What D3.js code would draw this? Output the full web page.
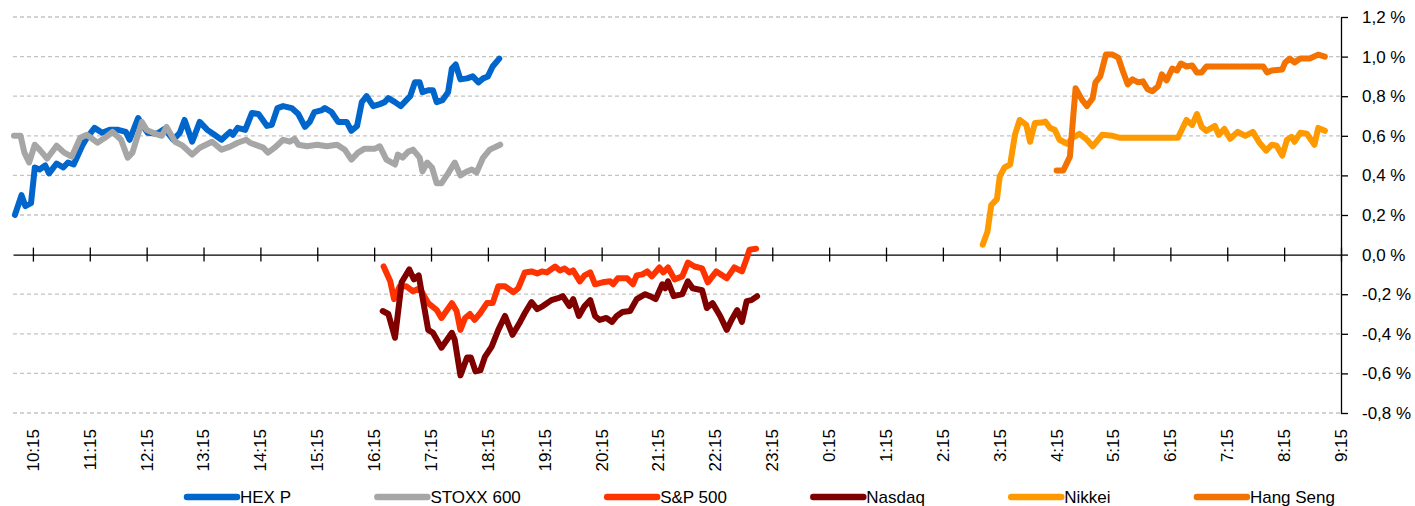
<!DOCTYPE html>
<html>
<head>
<meta charset="utf-8">
<script src="https://cdn.jsdelivr.net/npm/d3@7"></script>
<style>
  body { margin: 0; background: #fff; }
  svg { display: block; font-family: "Liberation Sans", Arial, sans-serif; }
</style>
</head>
<body>
<div id="chart"></div>
<script>
// tick labels
const xTicks = ["10:15","11:15","12:15","13:15","14:15","15:15","16:15","17:15","18:15","19:15","20:15","21:15",
  "22:15","23:15","0:15","1:15","2:15","3:15","4:15","5:15","6:15","7:15","8:15","9:15"];
const yTicks = [-0.8, -0.6, -0.4, -0.2, 0, 0.2, 0.4, 0.6, 0.8, 1.0, 1.2];

// series: [time, % change]
const hexP = [["9:56",0.20],["10:03",0.30],["10:07",0.245],["10:13",0.26],["10:17",0.44],["10:22",0.43],["10:28",0.45],
  ["10:32",0.41],["10:40",0.46],["10:47",0.44],["10:52",0.465],["10:58",0.455],["11:07",0.55],["11:12",0.59],["11:20",0.64],
  ["11:28",0.615],["11:36",0.63],["11:45",0.63],["11:53",0.62],["11:57",0.58],["12:06",0.69],["12:11",0.65],["12:16",0.615],
  ["12:26",0.61],["12:34",0.635],["12:43",0.58],["12:50",0.615],["12:55",0.68],["13:03",0.57],["13:11",0.67],["13:19",0.63],
  ["13:25",0.61],["13:34",0.58],["13:43",0.62],["13:46",0.605],["13:51",0.64],["13:59",0.63],["14:06",0.715],["14:13",0.71],
  ["14:22",0.65],["14:27",0.655],["14:33",0.74],["14:39",0.75],["14:48",0.74],["14:55",0.71],["15:02",0.645],["15:07",0.67],
  ["15:12",0.72],["15:20",0.73],["15:23",0.74],["15:30",0.72],["15:37",0.67],["15:46",0.67],["15:51",0.625],["15:57",0.65],
  ["16:02",0.77],["16:07",0.80],["16:14",0.75],["16:21",0.76],["16:26",0.77],["16:30",0.79],["16:37",0.77],["16:43",0.75],
  ["16:49",0.78],["16:53",0.80],["16:58",0.87],["17:03",0.87],["17:06",0.82],["17:12",0.83],["17:17",0.83],["17:21",0.77],
  ["17:27",0.78],["17:33",0.82],["17:37",0.94],["17:41",0.96],["17:46",0.885],["17:53",0.89],["17:59",0.90],["18:05",0.87],
  ["18:10",0.89],["18:15",0.90],["18:20",0.95],["18:27",0.99]];

const stoxx600 = [["9:55",0.60],["10:02",0.60],["10:06",0.515],["10:11",0.465],["10:17",0.555],["10:22",0.53],["10:30",0.485],
  ["10:40",0.55],["10:48",0.515],["10:56",0.495],["11:05",0.59],["11:12",0.605],["11:23",0.565],["11:31",0.59],["11:39",0.62],
  ["11:48",0.58],["11:55",0.49],["12:00",0.515],["12:10",0.67],["12:15",0.63],["12:24",0.61],["12:31",0.60],["12:36",0.645],
  ["12:45",0.57],["12:53",0.55],["13:03",0.505],["13:11",0.54],["13:24",0.57],["13:34",0.53],["13:43",0.545],["13:51",0.565],
  ["14:00",0.58],["14:04",0.565],["14:18",0.54],["14:23",0.515],["14:30",0.54],["14:39",0.58],["14:46",0.57],["14:51",0.585],
  ["14:55",0.555],["15:04",0.547],["15:15",0.555],["15:25",0.547],["15:36",0.555],["15:44",0.53],["15:51",0.48],["15:58",0.515],
  ["16:05",0.535],["16:16",0.535],["16:21",0.547],["16:28",0.48],["16:37",0.455],["16:40",0.505],["16:45",0.49],["16:51",0.52],
  ["16:56",0.53],["17:03",0.49],["17:06",0.42],["17:11",0.465],["17:16",0.44],["17:21",0.36],["17:26",0.36],["17:33",0.41],
  ["17:40",0.465],["17:46",0.40],["17:53",0.42],["17:58",0.43],["18:03",0.415],["18:10",0.49],["18:17",0.53],["18:28",0.555]];

const sp500 = [["16:25",-0.06],["16:32",-0.135],["16:36",-0.225],["16:42",-0.16],["16:49",-0.16],["16:56",-0.185],["17:03",-0.17],
  ["17:12",-0.245],["17:21",-0.28],["17:26",-0.32],["17:37",-0.245],["17:42",-0.285],["17:46",-0.38],["17:51",-0.32],["17:56",-0.30],
  ["18:01",-0.33],["18:07",-0.295],["18:14",-0.245],["18:20",-0.245],["18:26",-0.16],["18:33",-0.16],["18:42",-0.19],["18:47",-0.17],
  ["18:54",-0.09],["19:01",-0.085],["19:07",-0.095],["19:12",-0.085],["19:17",-0.09],["19:26",-0.06],["19:31",-0.08],["19:36",-0.07],
  ["19:41",-0.09],["19:45",-0.08],["19:52",-0.135],["19:57",-0.105],["20:03",-0.09],["20:08",-0.15],["20:16",-0.14],["20:24",-0.135],
  ["20:27",-0.15],["20:32",-0.12],["20:42",-0.12],["20:48",-0.15],["20:52",-0.105],["20:58",-0.10],["21:03",-0.085],["21:08",-0.11],
  ["21:16",-0.065],["21:20",-0.09],["21:25",-0.065],["21:32",-0.125],["21:40",-0.11],["21:46",-0.04],["21:53",-0.06],["22:01",-0.07],
  ["22:07",-0.14],["22:16",-0.085],["22:27",-0.12],["22:35",-0.065],["22:43",-0.085],["22:48",-0.02],["22:51",0.025],["22:58",0.03]];

const nasdaq = [["16:24",-0.285],["16:30",-0.30],["16:37",-0.42],["16:44",-0.14],["16:52",-0.075],["16:57",-0.125],["17:02",-0.105],
  ["17:12",-0.38],["17:17",-0.395],["17:26",-0.47],["17:37",-0.395],["17:40",-0.43],["17:46",-0.61],["17:53",-0.52],["17:57",-0.52],
  ["18:02",-0.59],["18:07",-0.585],["18:12",-0.515],["18:19",-0.465],["18:26",-0.38],["18:33",-0.31],["18:41",-0.405],["18:49",-0.34],
  ["18:54",-0.295],["19:01",-0.24],["19:07",-0.275],["19:13",-0.26],["19:22",-0.23],["19:29",-0.22],["19:34",-0.21],["19:41",-0.26],
  ["19:45",-0.225],["19:51",-0.31],["19:57",-0.26],["20:03",-0.23],["20:08",-0.31],["20:13",-0.33],["20:20",-0.32],["20:26",-0.34],
  ["20:31",-0.31],["20:37",-0.29],["20:45",-0.285],["20:52",-0.225],["21:01",-0.20],["21:06",-0.21],["21:12",-0.225],["21:19",-0.15],
  ["21:22",-0.17],["21:25",-0.135],["21:31",-0.21],["21:40",-0.20],["21:46",-0.135],["21:51",-0.17],["22:01",-0.18],["22:06",-0.27],
  ["22:12",-0.245],["22:20",-0.31],["22:27",-0.38],["22:32",-0.33],["22:38",-0.28],["22:43",-0.34],["22:48",-0.235],["22:53",-0.23],
  ["22:59",-0.21]];

const nikkei = [["2:57",0.05],["3:02",0.115],["3:06",0.25],["3:12",0.28],["3:15",0.395],["3:20",0.44],["3:26",0.455],["3:31",0.605],
  ["3:36",0.68],["3:43",0.655],["3:47",0.57],["3:52",0.665],["3:59",0.667],["4:03",0.672],["4:08",0.64],["4:13",0.63],["4:18",0.58],
  ["4:26",0.56],["4:32",0.59],["4:39",0.61],["4:47",0.58],["4:53",0.547],["5:03",0.605],["5:14",0.60],["5:22",0.59],["6:23",0.59],
  ["6:32",0.68],["6:38",0.655],["6:43",0.71],["6:48",0.645],["6:53",0.625],["7:02",0.65],["7:06",0.605],["7:12",0.635],["7:18",0.585],
  ["7:26",0.62],["7:34",0.60],["7:42",0.62],["7:49",0.565],["7:56",0.525],["8:02",0.555],["8:07",0.55],["8:13",0.50],["8:18",0.58],
  ["8:23",0.595],["8:26",0.57],["8:32",0.615],["8:39",0.61],["8:47",0.555],["8:51",0.64],["8:58",0.625]];

const hangSeng = [["4:15",0.425],["4:22",0.425],["4:29",0.495],["4:35",0.84],["4:42",0.78],["4:47",0.75],["4:53",0.79],["4:56",0.87],
  ["5:01",0.90],["5:07",1.01],["5:14",1.01],["5:20",0.995],["5:25",0.925],["5:30",0.86],["5:35",0.885],["5:41",0.87],["5:46",0.875],
  ["5:51",0.835],["5:56",0.825],["6:02",0.85],["6:06",0.91],["6:11",0.88],["6:17",0.94],["6:22",0.93],["6:26",0.965],["6:32",0.95],
  ["6:38",0.955],["6:43",0.92],["6:48",0.92],["6:53",0.95],["7:53",0.95],["7:57",0.92],["8:02",0.93],["8:13",0.935],["8:16",0.97],
  ["8:21",0.99],["8:26",0.97],["8:32",0.99],["8:42",0.99],["8:51",1.01],["8:58",1.0]];

const seriesNames = ["HEX P", "STOXX 600", "S&P 500", "Nasdaq", "Nikkei", "Hang Seng"];
const seriesColors = ["#0066CC", "#A6A6A6", "#FF3300", "#800000", "#FF9900", "#F47200"];
const seriesData = [hexP, stoxx600, sp500, nasdaq, nikkei, hangSeng];

const width = 1415, height = 506;
const plotLeft = 13, plotRight = 1341, plotTop = 17, plotBottom = 413;

// minutes after 10:15 on the first day; early-morning times belong to the next day
function toMinutes(t) {
  const [h, m] = t.split(":").map(Number);
  let v = h * 60 + m - 615;
  if (v < -30) v += 1440;
  return v;
}

const x = d3.scaleLinear().domain([-21, 1380]).range([plotLeft, plotRight]);
const y = d3.scaleLinear().domain([-0.8, 1.2]).range([plotBottom, plotTop]);

const svg = d3.select("#chart").append("svg")
  .attr("width", width)
  .attr("height", height);

// dashed gridlines
svg.append("g")
  .selectAll("line")
  .data(yTicks.filter(d => d !== 0))
  .enter().append("line")
  .attr("x1", plotLeft).attr("x2", plotRight)
  .attr("y1", d => y(d)).attr("y2", d => y(d))
  .attr("stroke", "#c3c3c3")
  .attr("stroke-width", 1.3)
  .attr("stroke-dasharray", "4,3");

// y axis on the right
const fmt = d => d3.format(".1f")(d).replace(".", ",").replace("\u2212", "-") + " %";
const yAxis = svg.append("g")
  .attr("transform", "translate(" + plotRight + ",0)")
  .call(d3.axisRight(y).tickValues(yTicks).tickSize(7).tickSizeOuter(0).tickPadding(14).tickFormat(fmt));
yAxis.select(".domain").attr("stroke", "#000").attr("stroke-width", 1.3);
yAxis.selectAll(".tick line").attr("stroke", "#000").attr("stroke-width", 1.3);
yAxis.selectAll("text").attr("font-size", 17).attr("fill", "#000").attr("font-family", "Liberation Sans, Arial, sans-serif");

// x axis along zero
const xAxis = svg.append("g")
  .attr("transform", "translate(0," + y(0) + ")")
  .call(d3.axisBottom(x).tickValues(xTicks.map(toMinutes)).tickSize(7).tickSizeOuter(0).tickFormat(""));
xAxis.select(".domain").attr("stroke", "#000").attr("stroke-width", 1.3);
xAxis.selectAll(".tick line").attr("stroke", "#000").attr("stroke-width", 1.3).attr("y1", -7);

// rotated time labels
svg.append("g")
  .selectAll("text")
  .data(xTicks)
  .enter().append("text")
  .attr("transform", d => "translate(" + x(toMinutes(d)) + ",429) rotate(-90)")
  .attr("text-anchor", "end")
  .attr("dy", "0.35em")
  .attr("font-size", 17)
  .attr("fill", "#000")
  .text(d => d);

// lines
const line = d3.line()
  .x(d => x(toMinutes(d[0])))
  .y(d => y(d[1]));

svg.append("g")
  .selectAll("path")
  .data(seriesData)
  .enter().append("path")
  .attr("d", line)
  .attr("fill", "none")
  .attr("stroke", (d, i) => seriesColors[i])
  .attr("stroke-width", 6)
  .attr("stroke-linejoin", "round")
  .attr("stroke-linecap", "round");

// legend
const legend = svg.append("g");
const items = legend.selectAll("g")
  .data(seriesNames)
  .enter().append("g");
items.append("line")
  .attr("x1", 0).attr("x2", 50)
  .attr("y1", 497).attr("y2", 497)
  .attr("stroke", (d, i) => seriesColors[i])
  .attr("stroke-width", 6.5)
  .attr("stroke-linecap", "round");
items.append("text")
  .attr("x", 53).attr("y", 503)
  .attr("font-size", 17)
  .attr("fill", "#000")
  .text(d => d);

const widths = [];
items.selectAll("text").each(function () { widths.push(this.getComputedTextLength()); });
const totalText = d3.sum(widths);
const gap = (1335 - 187 - seriesNames.length * 53 - totalText) / (seriesNames.length - 1);
let pos = 187;
items.each(function (d, i) {
  d3.select(this).attr("transform", "translate(" + pos + ",0)");
  pos += 53 + widths[i] + gap;
});
</script>
</body>
</html>
